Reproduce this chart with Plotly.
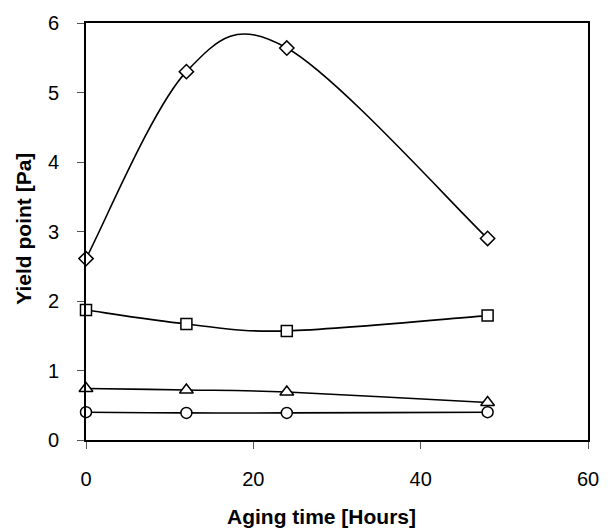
import plotly.graph_objects as go

hours = [0, 12, 24, 48]
diamond_vals = [2.61, 5.30, 5.64, 2.90]
square_vals = [1.87, 1.67, 1.57, 1.79]
triangle_vals = [0.74, 0.72, 0.69, 0.54]
circle_vals = [0.40, 0.39, 0.39, 0.40]

x_ticks = [0, 20, 40, 60]
y_ticks = [0, 1, 2, 3, 4, 5, 6]

series = [
    (diamond_vals, "diamond", 11),
    (square_vals, "square", 11),
    (triangle_vals, "triangle-up", 12),
    (circle_vals, "circle", 11),
]


def smooth_path(xs, ys):
    """Spreadsheet-style smoothed line (Catmull-Rom Bezier) in data coordinates."""
    n = len(xs)
    pts = list(zip(xs, ys))
    d = f"M {pts[0][0]},{pts[0][1]}"
    for i in range(n - 1):
        p0 = pts[i - 1] if i > 0 else pts[i]
        p1 = pts[i]
        p2 = pts[i + 1]
        p3 = pts[i + 2] if i + 2 < n else pts[i + 1]
        c1 = (p1[0] + (p2[0] - p0[0]) / 6, p1[1] + (p2[1] - p0[1]) / 6)
        c2 = (p2[0] - (p3[0] - p1[0]) / 6, p2[1] - (p3[1] - p1[1]) / 6)
        d += f" C {c1[0]},{c1[1]} {c2[0]},{c2[1]} {p2[0]},{p2[1]}"
    return d


fig = go.Figure()
shapes = []
for vals, sym, sz in series:
    shapes.append(dict(type="path", path=smooth_path(hours, vals),
                       xref="x", yref="y", layer="below",
                       line=dict(color="black", width=1.6)))
    fig.add_trace(go.Scatter(
        x=hours, y=vals, mode="markers",
        marker=dict(symbol=sym, size=sz, color="white",
                    line=dict(color="black", width=1.5)),
        showlegend=False, cliponaxis=False,
    ))

font_main = "Liberation Sans, Arial, sans-serif"

fig.update_layout(
    width=611, height=531,
    margin=dict(l=86, r=13, t=19, b=91),
    paper_bgcolor="white", plot_bgcolor="white",
    font=dict(family=font_main, color="black", size=20),
    shapes=shapes,
    xaxis=dict(range=[0, 60], tickvals=x_ticks, ticks="outside", ticklen=7,
               tickcolor="#555", tickwidth=1, showgrid=False, zeroline=False,
               showline=True, linecolor="black", linewidth=2, mirror=True,
               tickfont=dict(size=20), ticklabelstandoff=13),
    yaxis=dict(range=[0, 6], tickvals=y_ticks, ticks="outside", ticklen=7,
               tickcolor="#555", tickwidth=1, showgrid=False, zeroline=False,
               showline=True, linecolor="black", linewidth=2, mirror=True,
               tickfont=dict(size=20), ticklabelstandoff=14),
    annotations=[
        dict(text="<b>Aging time [Hours]</b>", xref="paper", yref="paper",
             x=0.469, y=-0.183, xanchor="center", yanchor="middle",
             showarrow=False, font=dict(size=21, family=font_main)),
        dict(text="<b>Yield point [Pa]</b>", xref="paper", yref="paper",
             x=-0.124, y=0.506, xanchor="center", yanchor="middle",
             textangle=-90, showarrow=False,
             font=dict(size=21, family=font_main)),
    ],
)

fig.write_html("out.html")
